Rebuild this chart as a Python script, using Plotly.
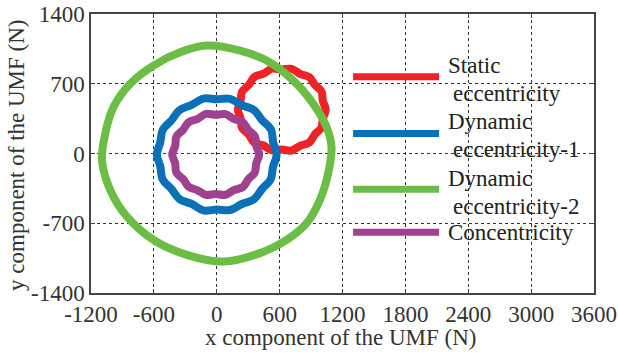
import plotly.graph_objects as go

# ---- data ----
static_x = [1040, 1012, 1000, 935, 882, 794, 714, 620, 526, 446, 359, 307, 242, 227, 202,
            228, 241, 306, 357, 446, 527, 620, 714, 795, 883, 934, 998, 1013, 1040]
static_y = [440, 529, 623, 691, 768, 800, 850, 843, 851, 802, 768, 690, 622, 530, 440,
            351, 257, 189, 110, 80, 31, 39, 30, 77, 110, 189, 258, 350, 440]

dyn1_x = [572, 538, 518, 432, 355, 239, 127, 0, -128, -240, -355, -431, -515, -539, -571,
          -538, -517, -433, -357, -239, -128, 0, 127, 240, 357, 433, 515, 537, 572]
dyn1_y = [-10, 113, 240, 335, 436, 486, 549, 544, 551, 487, 436, 334, 238, 113, -10,
          -133, -259, -355, -457, -506, -571, -563, -567, -507, -458, -355, -258, -133, -10]

dyn2_x = [1095, 1048, 920, 730, 476, 222, -95, -350, -604, -826, -985, -1064, -1095,
          -1016, -857, -604, -286, 63, 412, 667, 857, 984, 1063, 1095]
dyn2_y = [66, 266, 500, 733, 933, 1033, 1083, 1016, 883, 700, 466, 200, -67,
          -367, -634, -867, -1017, -1084, -1000, -867, -700, -467, -200, 66]

conc_x = [405, 377, 365, 301, 248, 162, 83, -10, -103, -182, -268, -321, -385, -396, -425,
          -397, -386, -320, -268, -183, -103, -10, 82, 162, 250, 301, 363, 377, 405]
conc_y = [-10, 78, 171, 238, 314, 347, 396, 388, 397, 348, 314, 238, 171, 78, -10,
          -98, -191, -258, -334, -369, -416, -406, -415, -368, -336, -258, -190, -98, -10]

series_names = ["Static eccentricity", "Dynamic eccentricity-1",
                "Dynamic eccentricity-2", "Concentricity"]
label_first = ["Static", "Dynamic", "Dynamic", "Concentricity"]
label_second = ["eccentricity", "eccentricity-1", "eccentricity-2", ""]
series_colors = ["#EE2227", "#0A70B8", "#6CBD45", "#A0418F"]

x_ticks = [-1200, -600, 0, 600, 1200, 1800, 2400, 3000, 3600]
y_ticks = [-1400, -700, 0, 700, 1400]

FONT = "Liberation Serif, Times New Roman, serif"

fig = go.Figure()
for xs, ys, name, col in zip([static_x, dyn1_x, dyn2_x, conc_x],
                             [static_y, dyn1_y, dyn2_y, conc_y],
                             series_names, series_colors):
    fig.add_trace(go.Scatter(x=xs, y=ys, mode="lines", name=name,
                             line=dict(color=col, width=8, shape="spline", smoothing=1.0),
                             showlegend=False))

# custom legend (white box, long swatches, two-line labels)
fig.add_shape(type="rect", xref="paper", yref="paper", x0=0.505, x1=0.99, y0=0.154, y1=0.896,
              fillcolor="white", line=dict(width=0), layer="between")
sw_y = [0.775, 0.572, 0.372, 0.218]
first_y = [0.817, 0.614, 0.412, 0.216]
second_y = [0.716, 0.513, 0.309, None]
for i in range(4):
    fig.add_shape(type="line", xref="paper", yref="paper", x0=0.521, x1=0.692,
                  y0=sw_y[i], y1=sw_y[i], line=dict(color=series_colors[i], width=7), layer="above")
    fig.add_annotation(xref="paper", yref="paper", x=0.705, y=first_y[i],
                       text=label_first[i], showarrow=False, xanchor="left", yanchor="middle",
                       font=dict(family=FONT, size=23, color="#222"))
    if label_second[i]:
        fig.add_annotation(xref="paper", yref="paper", x=0.715, y=second_y[i],
                           text=label_second[i], showarrow=False, xanchor="left", yanchor="middle",
                           font=dict(family=FONT, size=23, color="#222"))

# axis titles
fig.add_annotation(xref="paper", yref="paper", x=0.498, y=-0.161, text="x component of the UMF (N)",
                   showarrow=False, xanchor="center", yanchor="middle",
                   font=dict(family=FONT, size=23, color="#333"))
fig.add_annotation(xref="paper", yref="paper", x=-0.147, y=0.495, text="y component of the UMF (N)",
                   showarrow=False, xanchor="center", yanchor="middle", textangle=-90,
                   font=dict(family=FONT, size=23, color="#333"))

axis_common = dict(showline=True, linecolor="#444", linewidth=1.5, mirror="ticks",
                   ticks="inside", ticklen=4, tickcolor="#444", tickwidth=1,
                   showgrid=True, gridcolor="#333", griddash="dot", gridwidth=1,
                   zeroline=False, automargin=False,
                   tickfont=dict(family=FONT, size=23, color="#333"))

fig.update_xaxes(range=[-1200, 3600], tickvals=x_ticks, ticktext=[str(v) for v in x_ticks],
                 **axis_common)
fig.update_yaxes(range=[-1400, 1400], tickvals=y_ticks, ticktext=[str(v) for v in y_ticks],
                 **axis_common)

fig.update_layout(width=618, height=358, margin=dict(l=91, r=24, t=14, b=65),
                  paper_bgcolor="white", plot_bgcolor="white", showlegend=False)

fig.write_html("out.html", config={"displayModeBar": False},
               post_script="document.body.style.margin='0';")
